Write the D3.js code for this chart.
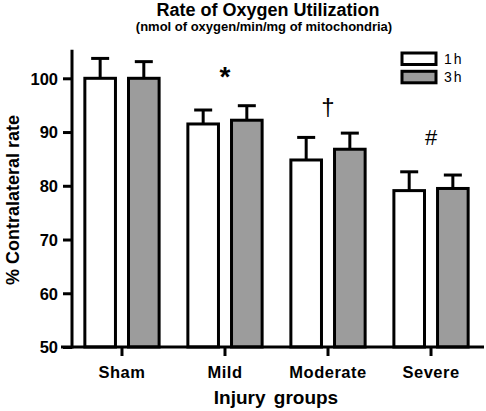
<!DOCTYPE html>
<html><head><meta charset="utf-8">
<script src="https://cdn.jsdelivr.net/npm/d3@7"></script>
<style>body{margin:0;background:#fff}svg{display:block}text{font-family:"Liberation Sans",Arial,sans-serif}</style>
</head><body><div id="c"></div>
<script>
const categories = ["Sham","Mild","Moderate","Severe"];
const seriesNames = ["1h","3h"];
const values1h = [100, 91.5, 84.8, 79.1];
const values3h = [100, 92.2, 86.8, 79.5];
const errTop1h = [103.7, 94.1, 89.0, 82.6];
const errTop3h = [103.1, 94.9, 89.8, 82.0];
const yTicks = [50,60,70,80,90,100];
const markerGroups = ["Mild","Moderate","Severe"];
const markerSymbols = ["*","\u2020","#"];
const markerLevels = [98.5, 93.2, 87.6];

const W=486,H=411;
const svg=d3.select("#c").append("svg").attr("width",W).attr("height",H);
const y=d3.scaleLinear().domain([50,100]).range([347,78.3]);
const x0=d3.scaleBand().domain(categories).range([57.6,495.4]).paddingInner(0.25).paddingOuter(0.25);
const x1=d3.scaleBand().domain(seriesNames).range([0,x0.bandwidth()]).paddingInner(0.23).paddingOuter(0);
const fills={"1h":"#ffffff","3h":"#9c9c9c"};
const data=[];
categories.forEach((c,i)=>{
  data.push({cat:c,s:"1h",v:values1h[i],e:errTop1h[i]});
  data.push({cat:c,s:"3h",v:values3h[i],e:errTop3h[i]});
});
const sw=3;
const g=svg.append("g");
data.forEach(d=>{
  const cx=x0(d.cat)+x1(d.s)+x1.bandwidth()/2;
  g.append("line").attr("x1",cx).attr("x2",cx).attr("y1",y(d.v)).attr("y2",y(d.e)).attr("stroke","#000").attr("stroke-width",sw);
  g.append("line").attr("x1",cx-9).attr("x2",cx+9).attr("y1",y(d.e)).attr("y2",y(d.e)).attr("stroke","#000").attr("stroke-width",sw);
});
g.selectAll("rect.bar").data(data).join("rect").attr("class","bar")
  .attr("x",d=>x0(d.cat)+x1(d.s)+sw/2)
  .attr("width",x1.bandwidth()-sw)
  .attr("y",d=>y(d.v))
  .attr("height",d=>y(50)-y(d.v))
  .attr("fill",d=>fills[d.s]).attr("stroke","#000").attr("stroke-width",sw);

const yAxis=d3.axisLeft(y).tickValues(yTicks).tickSize(9).tickPadding(5);
const ya=svg.append("g").attr("transform","translate(72,0)").call(yAxis);
ya.select(".domain").remove();
ya.append("line").attr("x1",0).attr("x2",0).attr("y1",y(105.3)).attr("y2",y(50)+1.5).attr("stroke","#000").attr("stroke-width",sw);
ya.selectAll(".tick line").attr("stroke","#000").attr("stroke-width",sw);
ya.selectAll(".tick text").attr("font-size",16.5).attr("font-weight","bold").attr("fill","#000").attr("dy","0.36em");

const xAxis=d3.axisBottom(x0).tickSize(9).tickPadding(10);
const xa=svg.append("g").attr("transform",`translate(0,${y(50)})`).call(xAxis);
xa.select(".domain").remove();
xa.append("line").attr("x1",61).attr("x2",484).attr("y1",0).attr("y2",0).attr("stroke","#000").attr("stroke-width",sw);
xa.selectAll(".tick line").attr("stroke","#000").attr("stroke-width",sw);
xa.selectAll(".tick text").attr("font-size",16.5).attr("font-weight","bold").attr("fill","#000").attr("letter-spacing","0.5px");

markerGroups.forEach((c,i)=>{
  svg.append("text").attr("x",x0(c)+x0.bandwidth()/2).attr("y",y(markerLevels[i]))
    .attr("text-anchor","middle").attr("font-size",[28,24,22][i]).attr("font-weight",i===0?"bold":"normal").text(markerSymbols[i]);
});

const leg=svg.append("g");
seriesNames.forEach((s,i)=>{
  leg.append("rect").attr("x",402).attr("y",53+i*18.3).attr("width",34).attr("height",11.5)
    .attr("fill",fills[s]).attr("stroke","#000").attr("stroke-width",sw);
  leg.append("text").attr("x",444).attr("y",64+i*18.3).attr("font-size",14).attr("letter-spacing","2px").text(s);
});

svg.append("text").attr("x",268).attr("y",16).attr("text-anchor","middle").attr("font-size",18).attr("font-weight","bold").text("Rate of Oxygen Utilization");
svg.append("text").attr("x",264).attr("y",30.5).attr("text-anchor","middle").attr("font-size",13).attr("font-weight","bold").text("(nmol of oxygen/min/mg of mitochondria)");
svg.append("text").attr("x",276).attr("y",404).attr("text-anchor","middle").attr("font-size",19).attr("font-weight","bold").attr("word-spacing","3px").text("Injury groups");
svg.append("text").attr("transform","translate(19,200) rotate(-90)").attr("text-anchor","middle").attr("font-size",18).attr("font-weight","bold").text("% Contralateral rate");
</script></body></html>
